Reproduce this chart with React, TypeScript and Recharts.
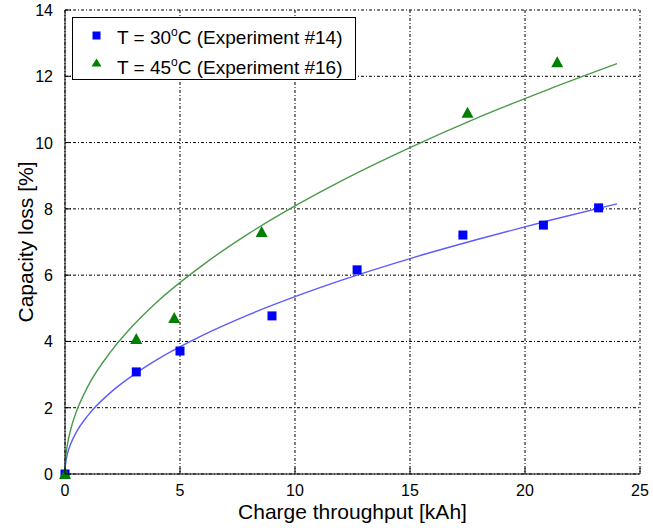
import {
  ComposedChart,
  Scatter,
  Line,
  XAxis,
  YAxis,
  CartesianGrid,
  Legend,
} from 'recharts';

// measured points
const exp14X = [0, 3.1, 5.0, 9.0, 12.7, 17.3, 20.8, 23.2];
const exp14Y = [0, 3.08, 3.71, 4.77, 6.16, 7.21, 7.51, 8.03];
const exp16X = [0, 3.1, 4.75, 8.55, 17.5, 21.4];
const exp16Y = [0, 4.07, 4.71, 7.3, 10.9, 12.42];

// fitted curves
const fitX = [0, 0.02, 0.1, 0.25, 0.5, 1, 2, 3, 4, 6, 8, 10, 12, 15, 18, 21, 24];
const fit30 = [0, 0.27, 0.59, 0.91, 1.27, 1.77, 2.47, 3.0, 3.45, 4.19, 4.81, 5.35, 5.84, 6.5, 7.09, 7.64, 8.15];
const fit45 = [0, 0.4, 0.86, 1.35, 1.89, 2.65, 3.7, 4.51, 5.19, 6.31, 7.26, 8.09, 8.84, 9.85, 10.77, 11.6, 12.38];

const xTicks = [0, 5, 10, 15, 20, 25];
const yTicks = [0, 2, 4, 6, 8, 10, 12, 14];

const legendLabels = [
  { temp: '30', exp: '#14' },
  { temp: '45', exp: '#16' },
];

const zip = (xs: number[], ys: number[]) => xs.map((x, i) => ({ x, y: ys[i] }));

const pts14 = zip(exp14X, exp14Y);
const pts16 = zip(exp16X, exp16Y);
const curve30 = zip(fitX, fit30);
const curve45 = zip(fitX, fit45);

const FONT = '"Liberation Sans", Arial, Helvetica, sans-serif';
const BLUE = '#0000ff';
const GREEN = '#007f00';

const Square = (props: any) => {
  const { cx, cy } = props;
  return <rect x={cx - 4.5} y={cy - 4.5} width={9} height={9} fill={BLUE} />;
};

const Triangle = (props: any) => {
  const { cx, cy } = props;
  return <polygon points={`${cx},${cy - 6} ${cx - 6},${cy + 5} ${cx + 6},${cy + 5}`} fill={GREEN} />;
};

const BottomTick = (props: any) => {
  const { x, y, payload } = props;
  return (
    <g>
      <line x1={x} y1={y} x2={x} y2={y - 6} stroke="#000" />
      <text x={x} y={y + 22} textAnchor="middle" fontSize={16} fontFamily={FONT} fill="#000">
        {payload.value}
      </text>
    </g>
  );
};

const TopTick = (props: any) => {
  const { x, y } = props;
  return <line x1={x} y1={y} x2={x} y2={y + 6} stroke="#000" />;
};

const LeftTick = (props: any) => {
  const { x, y, payload } = props;
  return (
    <g>
      <line x1={x} y1={y} x2={x + 6} y2={y} stroke="#000" />
      <text x={x - 12} y={y + 6} textAnchor="end" fontSize={16} fontFamily={FONT} fill="#000">
        {payload.value}
      </text>
    </g>
  );
};

const RightTick = (props: any) => {
  const { x, y } = props;
  return <line x1={x} y1={y} x2={x - 6} y2={y} stroke="#000" />;
};

const YTitle = (props: any) => {
  const { viewBox } = props;
  const cx = viewBox.x + 25;
  const cy = viewBox.y + viewBox.height / 2;
  return (
    <text
      x={cx}
      y={cy}
      transform={`rotate(-90, ${cx}, ${cy})`}
      textAnchor="middle"
      dominantBaseline="central"
      fontSize={21}
      fontFamily={FONT}
      fill="#000"
    >
      Capacity loss [%]
    </text>
  );
};

const XTitle = (props: any) => {
  const { viewBox } = props;
  return (
    <text
      x={viewBox.x + viewBox.width / 2}
      y={viewBox.y + 45}
      textAnchor="middle"
      fontSize={21}
      fontFamily={FONT}
      fill="#000"
    >
      Charge throughput [kAh]
    </text>
  );
};

const LegendBox = () => (
  <svg width={284} height={63} style={{ display: 'block' }}>
    <rect x={0.5} y={0.5} width={283} height={62} fill="#fff" stroke="#000" />
    <rect x={20.5} y={14.5} width={8} height={8} fill={BLUE} />
    <polygon points="24.5,41.5 19.5,49.5 29.5,49.5" fill={GREEN} />
    {legendLabels.map((l, i) => (
      <text key={l.exp} x={45} y={26.5 + i * 30} fontSize={19} fontFamily={FONT} fill="#000">
        T = {l.temp}
        <tspan fontSize={12} dy={-8}>o</tspan>
        <tspan dy={8}>C (Experiment {l.exp})</tspan>
      </text>
    ))}
  </svg>
);

export default function App() {
  return (
    <div style={{ position: 'absolute', left: 0, top: 0, width: 653, height: 528, background: '#fff' }}>
      <ComposedChart width={653} height={528} margin={{ top: 10, right: 13, bottom: 0, left: 0 }}>
        <CartesianGrid stroke="#000" strokeDasharray="3 2 1 2" verticalValues={xTicks} horizontalValues={yTicks} />
        <XAxis
          type="number"
          dataKey="x"
          domain={[0, 25]}
          ticks={xTicks}
          interval={0}
          height={54}
          tickSize={0}
          tickMargin={0}
          tickLine={false}
          axisLine={{ stroke: '#000' }}
          tick={<BottomTick />}
          label={<XTitle />}
        />
        <XAxis
          xAxisId="top"
          orientation="top"
          type="number"
          domain={[0, 25]}
          ticks={xTicks}
          interval={0}
          height={0}
          tickSize={0}
          tickMargin={0}
          tickLine={false}
          axisLine={{ stroke: '#000' }}
          tick={<TopTick />}
        />
        <YAxis
          type="number"
          dataKey="y"
          domain={[0, 14]}
          ticks={yTicks}
          interval={0}
          width={65}
          tickSize={0}
          tickMargin={0}
          tickLine={false}
          axisLine={{ stroke: '#000' }}
          tick={<LeftTick />}
          label={<YTitle />}
        />
        <YAxis
          yAxisId="right"
          orientation="right"
          type="number"
          domain={[0, 14]}
          ticks={yTicks}
          interval={0}
          width={0}
          tickSize={0}
          tickMargin={0}
          tickLine={false}
          axisLine={{ stroke: '#000' }}
          tick={<RightTick />}
        />
        <Line
          data={curve30}
          dataKey="y"
          type="monotone"
          stroke="#5c5cff"
          strokeWidth={1.4}
          dot={false}
          activeDot={false}
          isAnimationActive={false}
          legendType="none"
        />
        <Line
          data={curve45}
          dataKey="y"
          type="monotone"
          stroke="#4b9a4b"
          strokeWidth={1.4}
          dot={false}
          activeDot={false}
          isAnimationActive={false}
          legendType="none"
        />
        <Scatter data={pts14} dataKey="y" shape={<Square />} isAnimationActive={false} />
        <Scatter data={pts16} dataKey="y" shape={<Triangle />} isAnimationActive={false} />
        <Legend
          layout="vertical"
          align="center"
          verticalAlign="middle"
          content={<LegendBox />}
          wrapperStyle={{ position: 'absolute', top: 17, left: 71.5, width: 284, height: 63 }}
        />
      </ComposedChart>
    </div>
  );
}
